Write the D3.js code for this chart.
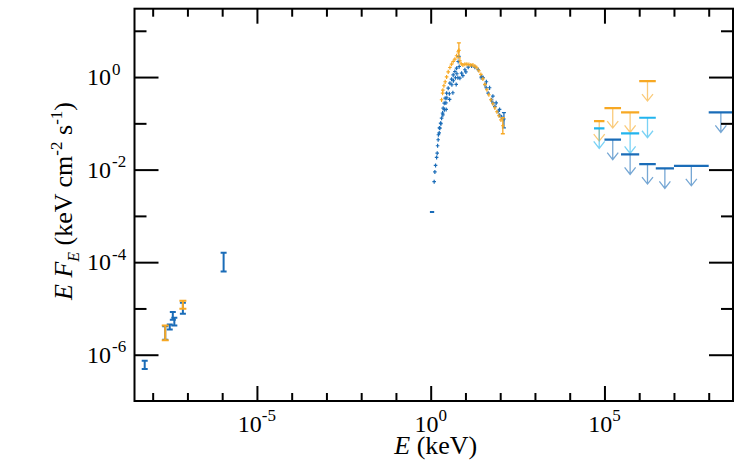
<!DOCTYPE html>
<html>
<head>
<meta charset="utf-8">
<script src="https://cdn.jsdelivr.net/npm/d3@7"></script>
<style>
  body { margin: 0; background: #fff; }
</style>
</head>
<body>
<div id="chart"></div>
<script>
// ---- data (E in keV, EF_E in keV cm^-2 s^-1) ----

// optical / UV photometry : [E, low, high]
var optBlue = [
  [5.9e-9, 4.9e-7, 7.4e-7],
  [2.3e-8, 2.1e-6, 4.1e-6],
  [3.1e-8, 3.5e-6, 4.5e-6],
  [3.8e-8, 5.7e-6, 8.4e-6],
  [4.2e-8, 4.3e-6, 6.3e-6],
  [7.4e-8, 7.7e-6, 1.32e-5],
  [1.1e-6, 6.3e-5, 1.6e-4]
];
var optOrange = [
  [2.3e-8, 2.05e-6, 4.3e-6],
  [7.4e-8, 9.8e-6, 1.47e-5]
];

// soft X-ray point : [Elo, Ehi, F]
var xrtBlue = [[0.95, 1.26, 1.21e-3]];

// X-ray / hard X-ray spectrum : [E, F]
var specBlue = [
  [1.26, 5.5e-3], [1.32, 8.9e-3], [1.38, 1.23e-2], [1.48, 1.83e-2], [1.54, 2.28e-2],
  [1.58, 3.28e-2], [1.64, 4.42e-2], [1.67, 5.67e-2], [1.76, 6.2e-2], [1.78, 8.0e-2],
  [1.84, 7.9e-2], [1.93, 0.101], [1.97, 0.098], [2.06, 0.130], [2.20, 0.167],
  [2.24, 0.153], [2.29, 0.214], [2.45, 0.274], [2.48, 0.197], [2.61, 0.352],
  [2.74, 0.278], [2.79, 0.200], [2.87, 0.451], [2.92, 0.357], [3.19, 0.578],
  [3.45, 0.436], [3.50, 0.328], [3.57, 0.742], [3.99, 0.905], [4.07, 0.682],
  [4.35, 0.458], [4.44, 1.12], [4.50, 0.832], [4.97, 1.32], [5.14, 0.966],
  [5.42, 0.692], [5.56, 1.56], [5.67, 1.18], [6.06, 0.966], [6.18, 2.17],
  [6.48, 2.79], [6.61, 1.69], [6.92, 0.95], [7.74, 1.22], [8.44, 1.07],
  [9.64, 1.44], [10.3, 1.30], [12.0, 1.64], [15.0, 1.75], [18.7, 1.64],
  [23.3, 1.44], [28.4, 0.966], [29.1, 1.03], [32.4, 0.966], [36.3, 0.682],
  [39.5, 0.587], [40.0, 0.791], [45.1, 0.451], [49.5, 0.587], [56.5, 0.323],
  [61.5, 0.278], [61.6, 0.388], [70.3, 0.232], [76.6, 0.278], [87.5, 0.181],
  [96.0, 0.200], [96.0, 0.151], [110, 0.137], [128, 0.124]
];
var specOrange = [
  [2.06, 0.323], [2.20, 0.451], [2.24, 0.524], [2.40, 0.649], [2.61, 0.791],
  [2.87, 1.01], [3.19, 1.30], [3.57, 1.61], [3.99, 1.91], [4.44, 2.17],
  [4.97, 2.45], [5.56, 2.89], [6.18, 3.52], [6.48, 3.79], [6.92, 2.25],
  [7.54, 1.94], [8.44, 1.84], [9.64, 1.91], [11.0, 1.91], [12.6, 1.87],
  [14.3, 1.84], [16.4, 1.82], [18.7, 1.73], [21.3, 1.59], [24.4, 1.37],
  [27.8, 1.14], [31.7, 0.918], [36.3, 0.692], [41.4, 0.532], [47.2, 0.415],
  [53.9, 0.323], [61.5, 0.265], [70.3, 0.217], [80.2, 0.178], [91.6, 0.146],
  [105, 0.119], [119, 0.0886]
];
// points with large error bars : [E, low, high]
var specBlueErr = [[128, 0.08, 0.17]];
var specOrangeErr = [[6.48, 2.6, 5.5], [119, 0.0596, 0.132]];
var specRelErr = 0.1;

// gamma-ray upper limits : [Elo, Ehi, F]
var ulOrange = [[5e4, 1e5, 0.112], [1e5, 3e5, 0.214], [3e5, 1e6, 0.172], [1e6, 3e6, 0.82]];
var ulCyan = [[5e4, 1e5, 0.0777], [3e5, 1e6, 0.0605], [1e6, 3e6, 0.132]];
var ulBlue = [[1e5, 3e5, 0.0443], [3e5, 1e6, 0.0213], [1e6, 3e6, 0.0132],
              [3e6, 1e7, 0.0106], [1e7, 1e8, 0.0121], [1e8, 5e8, 0.172]];

// axes
var xMajor = [1e-5, 1e0, 1e5];
var xMinor = [1e-8, 1e-7, 1e-6, 1e-4, 1e-3, 1e-2, 1e-1, 1e1, 1e2, 1e3, 1e4, 1e6, 1e7, 1e8];
var yMajor = [1e-6, 1e-4, 1e-2, 1e0];
var yMinor = [1e-5, 1e-3, 1e-1, 1e1];

var cBlue = "#1a6cb8", cOrange = "#f7a823", cCyan = "#22b4ee";
var fontName = "'Liberation Serif'";

// ---- layout ----
var margin = { top: 8.7, right: 14, bottom: 66, left: 134.5 },
    width = 747 - margin.left - margin.right,
    height = 467 - margin.top - margin.bottom;

var svg = d3.select("#chart").append("svg")
    .attr("width", 747).attr("height", 467);
var g = svg.append("g")
    .attr("transform", "translate(" + margin.left + "," + margin.top + ")");

var x = d3.scaleLog().domain([3e-9, 5e8]).range([0, width]);
var y = d3.scaleLog().domain([1e-7, 30]).range([height, 0]);

g.append("clipPath").attr("id", "clip")
  .append("rect").attr("width", width).attr("height", height);
var plot = g.append("g").attr("clip-path", "url(#clip)");

// ticks (inside, on all four sides)
function ticks(axis, vals, size, tx, ty) {
  var a = g.append("g")
    .attr("transform", "translate(" + tx + "," + ty + ")")
    .call(axis.tickValues(vals).tickSize(-size).tickFormat(""));
  a.select(".domain").remove();
  a.selectAll("text").remove();
  a.selectAll("line").attr("stroke", "#000").attr("stroke-width", 2);
}
ticks(d3.axisBottom(x), xMinor, 8, 0, height);
ticks(d3.axisBottom(x), xMajor, 15, 0, height);
ticks(d3.axisTop(x), xMinor, 8, 0, 0);
ticks(d3.axisTop(x), xMajor, 15, 0, 0);
ticks(d3.axisLeft(y), yMinor, 12, 0, 0);
ticks(d3.axisLeft(y), yMajor, 24, 0, 0);
ticks(d3.axisRight(y), yMinor, 12, width, 0);
ticks(d3.axisRight(y), yMajor, 24, width, 0);

g.append("rect").attr("width", width).attr("height", height)
  .attr("fill", "none").attr("stroke", "#000").attr("stroke-width", 2);

// tick labels
function expo(v) { var e = Math.round(Math.log10(v)); return e < 0 ? "-" + (-e) : "" + e; }

xMajor.forEach(function(v) {
  var t = g.append("text")
    .attr("x", x(v)).attr("y", height + 31)
    .attr("text-anchor", "middle")
    .style("font-family", fontName)
    .style("font-size", "24px");
  t.append("tspan").text("10");
  t.append("tspan").attr("dy", -11).style("font-size", "17px").text(expo(v));
});

yMajor.forEach(function(v) {
  g.append("text")
    .attr("x", -23.5).attr("y", y(v) + 8)
    .attr("text-anchor", "end")
    .style("font-family", fontName)
    .style("font-size", "24px")
    .text("10");
  g.append("text")
    .attr("x", -22.5).attr("y", y(v) - 2.5)
    .style("font-family", fontName)
    .style("font-size", "17px")
    .text(expo(v));
});

// axis titles
var xt = g.append("text")
  .attr("x", width / 2 + 2).attr("y", height + 53)
  .attr("text-anchor", "middle")
  .style("font-family", fontName)
  .style("font-size", "26px");
xt.append("tspan").style("font-style", "italic").text("E");
xt.append("tspan").text(" (keV)");

var yt = svg.append("text")
  .attr("transform", "translate(72," + 201 + ") rotate(-90)")
  .attr("text-anchor", "middle")
  .style("font-family", fontName)
  .style("font-size", "26px");
yt.append("tspan").style("font-style", "italic").text("E F");
yt.append("tspan").style("font-style", "italic").style("font-size", "16px").attr("dy", 7).text("E");
yt.append("tspan").attr("dy", -7).text(" (keV cm");
yt.append("tspan").style("font-size", "17px").attr("dy", -10).text("-2");
yt.append("tspan").attr("dy", 10).text(" s");
yt.append("tspan").style("font-size", "17px").attr("dy", -10).text("-1");
yt.append("tspan").attr("dy", 10).text(")");

// ---- marks ----
function errBars(data, color, cap, sw) {
  var e = plot.append("g").attr("stroke", color).attr("stroke-width", sw);
  e.selectAll("line.v").data(data).enter().append("line")
    .attr("x1", function(d) { return x(d[0]); }).attr("x2", function(d) { return x(d[0]); })
    .attr("y1", function(d) { return y(d[1]); }).attr("y2", function(d) { return y(d[2]); });
  [1, 2].forEach(function(k) {
    e.selectAll("line.c" + k).data(data).enter().append("line")
      .attr("x1", function(d) { return x(d[0]) - cap; }).attr("x2", function(d) { return x(d[0]) + cap; })
      .attr("y1", function(d) { return y(d[k]); }).attr("y2", function(d) { return y(d[k]); });
  });
}

function spectrum(data, color) {
  var s = plot.append("g").attr("stroke", color).attr("stroke-width", 1.2);
  s.selectAll("line.v").data(data).enter().append("line")
    .attr("x1", function(d) { return x(d[0]); }).attr("x2", function(d) { return x(d[0]); })
    .attr("y1", function(d) { return y(d[1] * (1 + specRelErr)); })
    .attr("y2", function(d) { return y(d[1] * (1 - specRelErr)); });
  s.selectAll("line.h").data(data).enter().append("line")
    .attr("x1", function(d) { return x(d[0]) - 1.8; }).attr("x2", function(d) { return x(d[0]) + 1.8; })
    .attr("y1", function(d) { return y(d[1]); }).attr("y2", function(d) { return y(d[1]); });
}

function upperLimits(data, color) {
  var u = plot.append("g");
  u.selectAll("line.bar").data(data).enter().append("line")
    .attr("x1", function(d) { return x(d[0]); }).attr("x2", function(d) { return x(d[1]); })
    .attr("y1", function(d) { return y(d[2]); }).attr("y2", function(d) { return y(d[2]); })
    .attr("stroke", color).attr("stroke-width", 2.2);
  u.selectAll("path.arrow").data(data).enter().append("path")
    .attr("d", function(d) {
      var cx = x(Math.sqrt(d[0] * d[1])), cy = y(d[2]);
      return "M" + cx + "," + cy + "V" + (cy + 20) +
             "M" + (cx - 5.5) + "," + (cy + 13) + "L" + cx + "," + (cy + 20) + "L" + (cx + 5.5) + "," + (cy + 13);
    })
    .attr("fill", "none").attr("stroke", color).attr("stroke-width", 1.3)
    .attr("stroke-opacity", 0.6);
}

// X-ray horizontal bar
plot.append("g").selectAll("line").data(xrtBlue).enter().append("line")
  .attr("x1", function(d) { return x(d[0]); }).attr("x2", function(d) { return x(d[1]); })
  .attr("y1", function(d) { return y(d[2]); }).attr("y2", function(d) { return y(d[2]); })
  .attr("stroke", cBlue).attr("stroke-width", 2);

spectrum(specBlue, cBlue);
errBars(specBlueErr, cBlue, 2, 1.3);
spectrum(specOrange, cOrange);
errBars(specOrangeErr, cOrange, 2, 1.3);

errBars(optBlue, cBlue, 3, 2);
errBars(optOrange, cOrange, 3.5, 2);

upperLimits(ulOrange, cOrange);
upperLimits(ulCyan, cCyan);
upperLimits(ulBlue, cBlue);
</script>
</body>
</html>
